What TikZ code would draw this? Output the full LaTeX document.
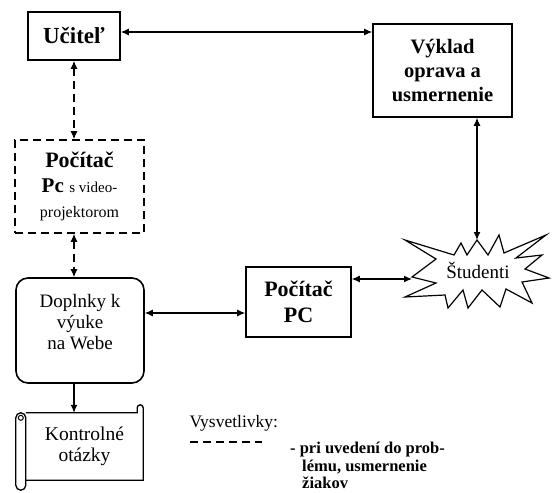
\documentclass[tikz,border=0pt]{standalone}
\usepackage{fontspec}
\setmainfont{Liberation Serif}
\usetikzlibrary{arrows.meta}
\tikzset{
  box/.style={draw, line width=1.6pt, align=center, font=\fontsize{21}{24}\selectfont\bfseries},
  dash8/.style={dash pattern=on 8pt off 5pt},
  link/.style={{Latex[length=8pt,width=7pt]}-{Latex[length=8pt,width=7pt]}, line width=1.2pt},
  dlink/.style={link, dash8}
}
\begin{document}
\begin{tikzpicture}[x=1pt,y=-1pt]
\useasboundingbox (0,0) rectangle (552,493);
% boxes
\node[box, minimum width=92pt, minimum height=48pt, font=\fontsize{23}{26}\selectfont\bfseries] (ucitel) at (74,36) {Učiteľ};
\node[box, minimum width=139pt, minimum height=93pt, font=\fontsize{20.5}{24}\selectfont\bfseries] (vyklad) at (442.5,70.5) {Výklad\\oprava a\\usmernenie};
\node[box, dash8, minimum width=129pt, minimum height=93pt, font=\fontsize{22}{25}\selectfont\bfseries] (pocitac) at (79.5,186.5)
  {Počítač\\{\fontsize{21}{24}\selectfont Pc} {\fontsize{15}{18}\selectfont\mdseries s video-}\\{\fontsize{16}{18}\selectfont\mdseries projektorom}};
\node[box, rounded corners=12pt, minimum width=128pt, minimum height=105pt,
  font=\fontsize{19}{21}\selectfont] (doplnky) at (80,330.5) {Doplnky k\\výuke\\na Webe\\[-4pt]};
\node[box, minimum width=105pt, minimum height=70pt, font=\fontsize{22}{26}\selectfont\bfseries] (pc) at (298.5,302) {Počítač\\PC};
\node[font=\fontsize{19}{21}\selectfont] (studenti) at (478,270) {Študenti};
\node[align=center, minimum width=117pt, minimum height=67pt,
  font=\fontsize{19.5}{21}\selectfont] (kontrol) at (84.5,446.5) {Kontrolné\\otázky};
% star round studenti
\draw[line width=1.2pt, line join=miter, shift={(studenti.center)}]
  (-73,-30) -- (-42,-11) -- (-66,7) -- (-42,13) -- (-73,27) -- (-33,25) -- (-30,38)
  -- (-15,20) -- (-10,38) -- (4,20) -- (22,37) -- (28,19) -- (54,33) -- (44,12)
  -- (71,8) -- (47,-1) -- (64,-15) -- (38,-12) -- (68,-35) -- (26,-17) -- (21,-35)
  -- (10,-15) -- (-1,-30) -- (-11,-15) -- (-17,-27) -- (-24,-15) -- cycle;
% scroll around kontrol
\draw[line width=1.3pt] (kontrol.north west) -- ([xshift=-6pt]kontrol.north east)
  -- ([xshift=-6pt,yshift=5pt]kontrol.north east) arc (180:0:3pt)
  -- (kontrol.south east) -- (kontrol.south west);
\draw[line width=1.3pt] ([xshift=-10pt,yshift=-5pt]kontrol.north west) -- ([xshift=-10pt,yshift=-5pt]kontrol.south west)
  arc (180:360:5pt) -- ([yshift=-5pt]kontrol.north west) arc (0:180:5pt);
\draw[line width=1pt] ([xshift=-5pt,yshift=-5pt]kontrol.north west) circle (2.5pt);
% connectors
\draw[link] ([yshift=4pt]ucitel.east) -- ([yshift=4pt]ucitel.east -| vyklad.west);
\draw[dlink] (ucitel) -- (ucitel |- pocitac.north);
\draw[dlink] (pocitac.south -| ucitel) -- (doplnky.north -| ucitel);
\draw[link] ([yshift=-11pt]pc.west) -- ([yshift=-11pt]pc.west -| doplnky.east);
\coordinate (stud-n) at ([xshift=-1pt,yshift=30pt]studenti.center);
\coordinate (stud-w) at ([xshift=-66pt,yshift=-9pt]studenti.center);
\coordinate (vyk-s) at (stud-n |- vyklad.south);
\draw[link] (vyk-s) -- (stud-n);
\coordinate (pc-e) at (pc.east |- stud-w);
\draw[link] (pc-e) -- (stud-w);
\draw[-{Latex[length=8pt,width=7pt]}, line width=1.2pt] (doplnky.south -| ucitel) -- (kontrol.north -| ucitel);
% legend
\node[anchor=west, font=\fontsize{17.5}{20}\selectfont] (legenda) at (186,423) {Vysvetlivky:};
\coordinate (leg-a) at (190,442);
\coordinate (leg-b) at (262,442);
\draw[dash8, line width=1.6pt] (leg-a) -- (leg-b);
\node[anchor=north west, align=left, inner sep=0pt, font=\fontsize{16.5}{17.5}\selectfont\bfseries] (popis) at (290,442)
  {- pri uvedení do prob-\\\hspace*{12pt}lému, usmernenie\\\hspace*{12pt}žiakov};
\end{tikzpicture}
\end{document}
